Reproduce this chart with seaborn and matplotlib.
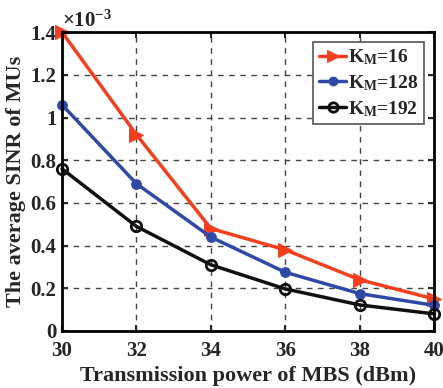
import pandas as pd
import seaborn as sns
import matplotlib.pyplot as plt
from matplotlib.ticker import FuncFormatter

# data (SINR in units of 1e-3)
power = [30, 32, 34, 36, 38, 40]
sinr_16 = [1.40, 0.92, 0.48, 0.38, 0.24, 0.15]
sinr_128 = [1.06, 0.69, 0.44, 0.275, 0.175, 0.12]
sinr_192 = [0.76, 0.49, 0.31, 0.197, 0.122, 0.08]
labels = ['K$_\\mathregular{M}$=16', 'K$_\\mathregular{M}$=128', 'K$_\\mathregular{M}$=192']

df = pd.DataFrame({
    'power': power * 3,
    'sinr': sinr_16 + sinr_128 + sinr_192,
    'series': [labels[0]] * 6 + [labels[1]] * 6 + [labels[2]] * 6,
})

sns.set_style('ticks')
plt.rcParams['font.family'] = ['Liberation Serif', 'DejaVu Serif']
plt.rcParams['font.weight'] = 'bold'
plt.rcParams['mathtext.fontset'] = 'custom'
plt.rcParams['mathtext.rm'] = 'Liberation Serif:bold'
plt.rcParams['mathtext.it'] = 'Liberation Serif:bold'
plt.rcParams['mathtext.bf'] = 'Liberation Serif:bold'

fig, ax = plt.subplots(figsize=(4.43, 3.88), dpi=100)
fig.subplots_adjust(left=0.14, right=0.98, top=0.917, bottom=0.147)

colors = ['#F2401F', '#2F4AA6', '#111111']
styles = [
    dict(marker='>', markersize=10, markerfacecolor=colors[0], markeredgecolor=colors[0]),
    dict(marker='o', markersize=7, markerfacecolor=colors[1], markeredgecolor=colors[1]),
    dict(marker='o', markersize=7.5, markerfacecolor='none', markeredgecolor=colors[2], markeredgewidth=2),
]
for lab, c, st in zip(labels, colors, styles):
    sns.lineplot(data=df[df['series'] == lab], x='power', y='sinr', color=c,
                 linewidth=2.5, label=lab, ax=ax, clip_on=False, **st)

ax.set_xlim(30, 40)
ax.set_ylim(0, 1.4)
ax.set_xticks([30, 32, 34, 36, 38, 40])
ax.set_yticks([0, 0.2, 0.4, 0.6, 0.8, 1.0, 1.2, 1.4])
ax.yaxis.set_major_formatter(FuncFormatter(lambda v, p: '%g' % round(v, 2)))
ax.grid(True, linestyle=(0, (4, 4)), color='#444444', linewidth=1)
ax.tick_params(direction='in', length=4, width=1.5, labelsize=15, top=True, right=True)
ax.tick_params(axis='x', pad=7)
ax.tick_params(axis='y', pad=4)
for s in ax.spines.values():
    s.set_linewidth(2)
    s.set_color('black')

ax.set_xlabel('Transmission power of MBS (dBm)', fontsize=16, fontweight='bold', labelpad=4)
ax.set_ylabel('The average SINR of MUs', fontsize=16, fontweight='bold', labelpad=3)
ax.text(0.0, 1.0, r'$\times10^{-3}$', transform=ax.transAxes, fontsize=15,
        ha='left', va='bottom')

leg = ax.legend(loc='upper right', fontsize=14, frameon=True, fancybox=False,
                edgecolor='#555555', framealpha=1, handlelength=1.4, handletextpad=0.1,
                borderpad=0.3, labelspacing=0.3, borderaxespad=0.5, markerscale=0.9)
leg.get_frame().set_linewidth(1.2)

fig.savefig('out.png', dpi=100)
